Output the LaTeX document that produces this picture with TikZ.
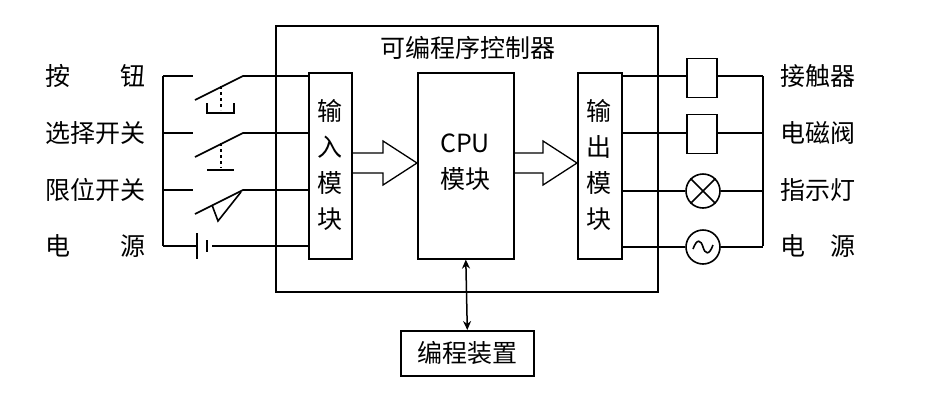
\documentclass[tikz,border=0pt]{standalone}
\usepackage{fontspec}
\setmainfont{Noto Sans CJK SC}
\usetikzlibrary{arrows.meta}
\begin{document}
\begin{tikzpicture}[x=1pt,y=-1pt,line width=1.6pt,
  lbl/.style={font=\fontsize{25}{29}\selectfont,inner sep=0pt},
  box/.style={draw,line width=1.6pt,inner sep=0pt}]
\useasboundingbox (0,0) rectangle (945,400);
% PLC
\node[box,minimum width=382pt,minimum height=266pt,anchor=north west] (plc) at (275,25) {};
\node[lbl] (title) at (468,48) {可编程序控制器};
\node[box,minimum width=43pt,minimum height=186pt,anchor=north west] (in) at (308,72) {};
\node[lbl,align=center] (intx) at (330,165) {输\\[7pt]入\\[7pt]模\\[7pt]块};
\node[box,minimum width=96pt,minimum height=186pt,anchor=north west] (cpu) at (417,72) {};
\node[lbl,align=center] (cputx) at (465,162) {CPU\\[7pt]模块};
\node[box,minimum width=44pt,minimum height=186pt,anchor=north west] (out) at (577,72) {};
\node[lbl,align=center] (outtx) at (599,165) {输\\[7pt]出\\[7pt]模\\[7pt]块};
\draw[line width=1.3pt,line join=miter] (in.east |- 0,153) -- (383,153) -- (383,141) -- (cpu.west |- 0,163) -- (383,185) -- (383,173) -- (in.east |- 0,173);
\draw[line width=1.3pt,line join=miter] (cpu.east |- 0,153) -- (543,153) -- (543,141) -- (out.west |- 0,163) -- (543,185) -- (543,173) -- (cpu.east |- 0,173);
\node[box,minimum width=133pt,minimum height=45pt,anchor=north west] (prog) at (400,330) {};
\node[lbl] (progtx) at (prog.center) {编程装置};
\draw[{Stealth[length=9pt,width=8pt]}-{Stealth[length=9pt,width=8pt]},line width=1.5pt] (cpu.south) -- (prog.north);
% left labels
\node[lbl] (l1) at (95,76) {按\hspace{2em}钮};
\node[lbl] (l2) at (95,133) {选择开关};
\node[lbl] (l3) at (95,190) {限位开关};
\node[lbl] (l4) at (95,246) {电\hspace{2em}源};
% left circuit
\coordinate (b1) at (163,76); \coordinate (b4) at (163,246);
\draw (b1) -- (b4);
\draw (b1) -- (193,76);
\draw (195,100) -- (243,76) -- (in.west |- 0,76);
\draw[dashed,line width=1.2pt] (221,86) -- (221,110);
\draw (207,103) -- (207,113) -- (234,113) -- (234,103);
\draw (163,133) -- (193,133);
\draw (195,157) -- (243,133) -- (in.west |- 0,133);
\draw[dashed,line width=1.2pt] (221,143) -- (221,168);
\draw (207,170) -- (234,170);
\draw (163,190) -- (193,190);
\draw (195,214) -- (243,190) -- (in.west |- 0,190);
\draw (212,205) -- (218,221) -- (241,192);
\draw (b4) -- (197,246);
\draw (197,233) -- (197,259);
\draw (207,240) -- (207,252);
\draw (212,246) -- (in.west |- 0,246);
% right circuit
\draw (763,76) -- (763,246);
\node[box,minimum width=30pt,minimum height=39pt] (k1) at (702,78) {};
\node[box,minimum width=30pt,minimum height=39pt] (k2) at (702,134) {};
\node[box,circle,minimum size=34pt] (lamp) at (703,191) {};
\draw (lamp.north west) -- (lamp.south east) (lamp.north east) -- (lamp.south west);
\node[box,circle,minimum size=34pt] (ac) at (703,247) {};
\draw (693,249) .. controls (697,238) and (701,240) .. (703,247) .. controls (705,254) and (709,256) .. (713,245);
\draw (out.east |- 0,76) -- (k1.west |- 0,76) (k1.east |- 0,76) -- (763,76);
\draw (out.east |- 0,133) -- (k2.west |- 0,133) (k2.east |- 0,133) -- (763,133);
\draw (out.east |- 0,191) -- (lamp.west) (lamp.east) -- (763,191);
\draw (out.east |- 0,247) -- (ac.west) (ac.east) -- (763,247);
\node[lbl] (r1) at (818,76) {接触器};
\node[lbl] (r2) at (818,133) {电磁阀};
\node[lbl] (r3) at (818,190) {指示灯};
\node[lbl] (r4) at (818,246) {电\hspace{1em}源};
\end{tikzpicture}
\end{document}
